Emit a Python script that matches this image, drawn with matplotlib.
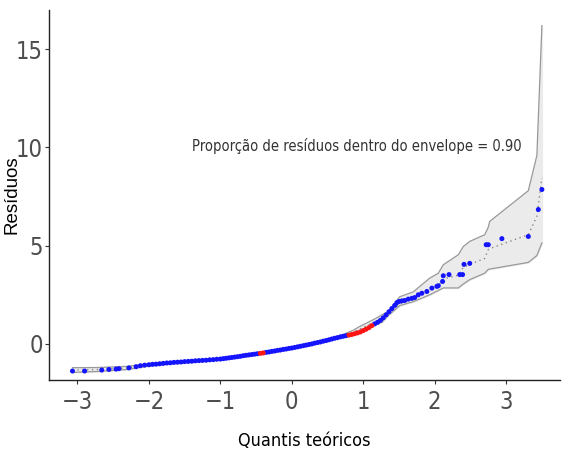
import numpy as np
import matplotlib
matplotlib.use("Agg")
import matplotlib.pyplot as plt
import matplotlib.font_manager as fm

# pontos do gráfico normal de probabilidades (quantis teóricos x resíduos)
quantis = [-3.07, -2.90, -2.66, -2.56, -2.46, -2.42, -2.28, -2.18,
           -2.12, -2.06, -2.00, -1.95, -1.90, -1.85, -1.80, -1.75, -1.70, -1.65,
           -1.60, -1.55, -1.50, -1.45, -1.40, -1.35, -1.30, -1.25, -1.20, -1.15,
           -1.10, -1.05, -1.00, -0.96, -0.92, -0.88, -0.84, -0.80, -0.76, -0.72,
           -0.68, -0.64, -0.60, -0.56, -0.52, -0.48, -0.44, -0.40, -0.36, -0.32,
           -0.28, -0.24, -0.20, -0.16, -0.12, -0.08, -0.04, 0.00, 0.04, 0.08,
           0.12, 0.16, 0.20, 0.24, 0.28, 0.32, 0.36, 0.40, 0.44, 0.48, 0.52,
           0.56, 0.60, 0.64, 0.68, 0.72, 0.76, 0.80, 0.84, 0.88, 0.92, 0.96,
           1.00, 1.04, 1.08, 1.12, 1.16, 1.20, 1.24, 1.28, 1.32, 1.36, 1.40,
           1.44, 1.47, 1.50, 1.54, 1.58, 1.63, 1.68, 1.72, 1.77, 1.82, 1.89,
           1.96, 2.03, 2.05, 2.11, 2.12, 2.20, 2.35, 2.39, 2.41, 2.49, 2.72,
           2.75, 2.94, 3.31, 3.45, 3.50]
residuos = [-1.38, -1.38, -1.33, -1.30, -1.28, -1.26, -1.22, -1.16,
            -1.11, -1.08, -1.06, -1.04, -1.03, -1.01, -0.99, -0.97, -0.96, -0.94,
            -0.93, -0.92, -0.90, -0.89, -0.88, -0.86, -0.85, -0.84, -0.83, -0.81,
            -0.80, -0.78, -0.77, -0.75, -0.73, -0.71, -0.69, -0.67, -0.65, -0.63,
            -0.60, -0.58, -0.56, -0.54, -0.52, -0.50, -0.48, -0.46, -0.43, -0.41,
            -0.38, -0.36, -0.33, -0.31, -0.28, -0.26, -0.23, -0.21, -0.18, -0.15,
            -0.12, -0.09, -0.06, -0.03, 0.00, 0.04, 0.07, 0.10, 0.14, 0.17, 0.21,
            0.25, 0.29, 0.32, 0.36, 0.39, 0.42, 0.45, 0.48, 0.52, 0.56, 0.61,
            0.68, 0.75, 0.83, 0.93, 1.02, 1.10, 1.20, 1.33, 1.48, 1.64, 1.80,
            1.96, 2.10, 2.16, 2.19, 2.21, 2.28, 2.32, 2.36, 2.50, 2.58, 2.67,
            2.84, 2.93, 2.96, 3.18, 3.47, 3.53, 3.53, 3.53, 4.05, 4.10, 5.05,
            5.05, 5.36, 5.47, 6.84, 7.86]

# envelope simulado
env_x = [-3.07, -2.70, -2.30, -2.00, -1.50, -1.00, -0.50, -0.44, -0.30, 0.00,
         0.40, 0.70, 0.86, 0.95, 1.09, 1.20, 1.26, 1.35, 1.51, 1.70, 1.93, 2.05,
         2.12, 2.33, 2.40, 2.49, 2.70, 2.75, 2.77, 3.31, 3.43, 3.50]
env_inf = [-1.45, -1.40, -1.30, -1.12, -0.95, -0.81, -0.53, -0.45, -0.43, -0.25,
           0.05, 0.33, 0.56, 0.66, 0.90, 1.02, 1.10, 1.45, 1.95, 2.15, 2.50, 2.72,
           2.85, 2.85, 3.05, 3.27, 3.60, 3.80, 3.81, 4.15, 4.50, 5.14]
env_med = [-1.33, -1.30, -1.22, -1.06, -0.91, -0.77, -0.50, -0.43, -0.39, -0.20,
           0.11, 0.39, 0.62, 0.75, 1.00, 1.15, 1.25, 1.55, 2.05, 2.32, 2.75, 2.95,
           3.30, 3.50, 3.90, 4.05, 4.35, 4.80, 4.85, 5.56, 6.50, 8.45]
env_sup = [-1.21, -1.20, -1.14, -1.00, -0.86, -0.73, -0.47, -0.40, -0.35, -0.16,
           0.16, 0.45, 0.70, 0.89, 1.14, 1.35, 1.48, 1.65, 2.40, 2.65, 3.35, 3.60,
           4.03, 4.54, 4.96, 5.22, 5.56, 5.95, 6.24, 7.80, 9.60, 16.20]

texto = "Proporção de resíduos dentro do envelope = 0.90"


def fonte_estreita():
    # procura uma fonte condensada instalada (tipo Arial Narrow)
    achadas = []
    for f in fm.fontManager.ttflist:
        nome = (f.name + " " + f.fname).lower()
        if ("narrow" in nome or "condensed" in nome or f.stretch in ("condensed", "semi-condensed")) \
                and f.style == "normal" and f.weight in (400, "normal", "regular", "book") \
                and "bold" not in f.fname.lower() and "oblique" not in f.fname.lower():
            achadas.append(f)
    achadas.sort(key=lambda f: (0 if "sans" in f.name.lower() else 1, f.name))
    if achadas:
        return fm.FontProperties(fname=achadas[0].fname)
    return fm.FontProperties(family="DejaVu Sans")


fp = fonte_estreita()

x = np.array(quantis)
y = np.array(residuos)
lo = np.interp(x, env_x, env_inf)
hi = np.interp(x, env_x, env_sup)
fora = (y < lo) | (y > hi)

fig = plt.figure(figsize=(5.62, 4.53), dpi=100)
ax = fig.add_axes([0.087, 0.161, 0.909, 0.817])

ax.fill_between(env_x, env_inf, env_sup, color="#ebebeb", zorder=1)
ax.plot(env_x, env_inf, color="#999999", lw=0.9, zorder=2)
ax.plot(env_x, env_sup, color="#999999", lw=0.9, zorder=2)
ax.plot(env_x, env_med, color="#888888", lw=1.0, ls=(0, (1, 2.5)), zorder=2)

ax.scatter(x[~fora], y[~fora], s=13, color="#1414ff", edgecolors="none", zorder=3)
ax.scatter(x[fora], y[fora], s=13, color="#ff1414", edgecolors="none", zorder=4)

ax.text(0.91, 10.05, texto, ha="center", va="center", fontproperties=fp,
        fontsize=10.5, color="#333333")

ax.set_xlim(-3.40, 3.75)
ax.set_ylim(-1.84, 17.0)
ax.set_xticks([-3, -2, -1, 0, 1, 2, 3])
ax.set_yticks([0, 5, 10, 15])
ax.set_xticklabels(["\u22123", "\u22122", "\u22121", "0", "1", "2", "3"])

for s in ["top", "right"]:
    ax.spines[s].set_visible(False)
for s in ["left", "bottom"]:
    ax.spines[s].set_color("#222222")
    ax.spines[s].set_linewidth(1.0)

ax.tick_params(length=3, width=0.8, color="#333333", labelcolor="#4d4d4d")
ax.tick_params(axis="x", pad=4)
ax.tick_params(axis="y", pad=1.5)
for lab in ax.get_xticklabels() + ax.get_yticklabels():
    lab.set_fontproperties(fp)
    lab.set_fontsize(17)

ax.set_xlabel("Quantis teóricos", fontproperties=fp, fontsize=13, color="black")
ax.set_ylabel("Resíduos", family=["Liberation Sans", "DejaVu Sans"], fontsize=13.5,
              color="black")
ax.xaxis.set_label_coords(0.5, -0.14)
ax.yaxis.set_label_coords(-0.055, 0.5)

fig.savefig("out.png", dpi=100)
